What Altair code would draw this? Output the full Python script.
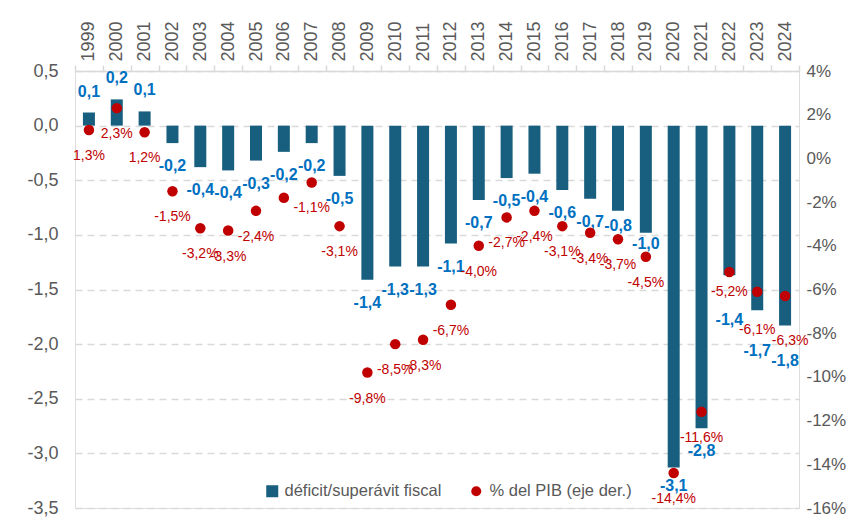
import altair as alt
import pandas as pd

# ---------------- data ----------------
YEARS = [str(y) for y in range(1999, 2025)]
BALANCE = [0.12, 0.24, 0.13, -0.16, -0.38, -0.41, -0.32, -0.24, -0.16, -0.46,
           -1.41, -1.29, -1.29, -1.08, -0.68, -0.48, -0.44, -0.59, -0.67, -0.78,
           -0.98, -3.13, -2.77, -1.37, -1.69, -1.83]
PCT_GDP = [1.3, 2.3, 1.2, -1.5, -3.2, -3.3, -2.4, -1.8, -1.1, -3.1,
           -9.8, -8.5, -8.3, -6.7, -4.0, -2.7, -2.4, -3.1, -3.4, -3.7,
           -4.5, -14.4, -11.6, -5.2, -6.1, -6.3]
HIDDEN_PCT_LABELS = ["2006"]
LEFT_TICKS = [0.5, 0.0, -0.5, -1.0, -1.5, -2.0, -2.5, -3.0, -3.5]
RIGHT_TICKS = [4, 2, 0, -2, -4, -6, -8, -10, -12, -14, -16]
LEG_BAR = "déficit/superávit fiscal"
LEG_PT = "% del PIB (eje der.)"

# ---------------- styles ----------------
BAR_C = "#175E7F"
BLUE_T = "#0070C0"
RED = "#C00000"
GRAY_T = "#595959"
GRID_C = "#D9D9D9"
NARROW = "Liberation Sans Narrow, Arial Narrow, sans-serif"
REG = "Liberation Sans, Arial, sans-serif"

# label nudges (px): (dx, dy)
NEG_DY, POS_DY = 23, -21
DY_OVERRIDE = {"2018": 15, "2019": 11, "2020": 18, "2022": 45, "2023": 41, "2024": 35}
PCT_NUDGE_DEFAULT = (0, 26)
PCT_NUDGE = {"2022": (0, 20), "2023": (0, 38), "2024": (5, 45)}


def es(v, d=1):
    s = f"{abs(v):.{d}f}".replace(".", ",")
    return ("-" if v < 0 and s.strip("0,") != "" else "") + s


df = pd.DataFrame({
    "year": YEARS,
    "bal": BALANCE,
    "pct": PCT_GDP,
})
df["bal_label"] = [es(v) for v in BALANCE]
df["pct_label"] = ["" if y in HIDDEN_PCT_LABELS else es(v) + "%" for y, v in zip(YEARS, PCT_GDP)]
df["s_bar"] = LEG_BAR
df["s_pt"] = LEG_PT

x_scale = alt.Scale(paddingInner=0, paddingOuter=0)
x_axis = alt.Axis(orient="top", title=None, labelAngle=270, labelFont=REG, labelFontSize=18,
                  labelColor=GRAY_T, domainColor=GRID_C, domainWidth=1.5, tickColor=GRID_C,
                  tickWidth=1.5, tickSize=6, tickBand="extent", labelPadding=4, grid=False)
X = alt.X("year:O", scale=x_scale, axis=x_axis, sort=YEARS)

yl_scale = alt.Scale(domain=[-3.5, 0.5], nice=False, zero=False)
yl_axis = alt.Axis(orient="left", title=None, values=LEFT_TICKS,
                   labelExpr="(datum.value < -0.001 ? '-' : '') + replace(format(abs(datum.value), '.1f'), '.', ',')",
                   grid=True, gridDash=[7, 5], gridColor=GRID_C, gridWidth=1.5,
                   domain=False, ticks=False, labelPadding=17, labelFont=NARROW,
                   labelFontSize=18, labelColor=GRAY_T)
yr_scale = alt.Scale(domain=[-16, 4], nice=False, zero=False)
yr_axis = alt.Axis(orient="right", title=None, values=RIGHT_TICKS,
                   labelExpr="(datum.value < 0 ? '-' : '') + format(abs(datum.value), 'd') + '%'",
                   grid=False, domain=False, ticks=False, labelPadding=7, labelFont=NARROW,
                   labelFontSize=17, labelColor=GRAY_T, labelAlign="left")
YL = alt.Y("bal:Q", scale=yl_scale, axis=yl_axis)
YR = alt.Y("pct:Q", scale=yr_scale, axis=yr_axis)

base = alt.Chart(df)

bars = base.mark_bar(size=12).encode(
    x=X,
    y=YL,
    color=alt.Color("s_bar:N", scale=alt.Scale(domain=[LEG_BAR], range=[BAR_C]),
                    legend=alt.Legend(orient="none", legendX=189, legendY=412, title=None,
                                      symbolType="square", symbolSize=144, labelFont=REG,
                                      labelFontSize=16.5, labelColor=GRAY_T, labelOffset=4,
                                      labelLimit=400, symbolStrokeWidth=0)),
)

# group label years by their vertical nudge
groups = {}
for y, v in zip(YEARS, BALANCE):
    dy = DY_OVERRIDE.get(y, NEG_DY if v < 0 else POS_DY)
    groups.setdefault(dy, []).append(y)

bal_text_layers = []
for dy, yrs in groups.items():
    bal_text_layers.append(
        base.mark_text(font=NARROW, fontSize=16, fontWeight="bold", color=BLUE_T,
                       baseline="middle", align="center", dy=dy)
        .encode(x=X, y=YL, text="bal_label:N")
        .transform_filter(alt.FieldOneOfPredicate(field="year", oneOf=yrs))
    )

left = alt.layer(bars, *bal_text_layers)

points = base.mark_circle(size=110, opacity=1).encode(
    x=X,
    y=YR,
    color=alt.Color("s_pt:N", scale=alt.Scale(domain=[LEG_PT], range=[RED]),
                    legend=alt.Legend(orient="none", legendX=393, legendY=412, title=None,
                                      symbolType="circle", symbolSize=100, labelFont=REG,
                                      labelFontSize=16.5, labelColor=GRAY_T, labelOffset=5,
                                      labelLimit=400, symbolStrokeWidth=0)),
)

pct_groups = {}
for y in YEARS:
    pct_groups.setdefault(PCT_NUDGE.get(y, PCT_NUDGE_DEFAULT), []).append(y)

pct_text_layers = []
for (dx, dy), yrs in pct_groups.items():
    pct_text_layers.append(
        base.mark_text(font=NARROW, fontSize=14, color=RED, baseline="middle",
                       align="center", dx=dx, dy=dy)
        .encode(x=X, y=YR, text="pct_label:N")
        .transform_filter(alt.FieldOneOfPredicate(field="year", oneOf=yrs))
    )

right = alt.layer(points, *pct_text_layers)

chart = alt.layer(left, right).resolve_scale(y="independent", color="independent").properties(
    width=724, height=437,
    autosize=alt.AutoSizeParams(type="none"),
    padding={"left": 67, "top": 63, "right": 49, "bottom": 9},
).configure_view(stroke=None).configure(background="white")

chart.save("out.html", embed_options={"renderer": "svg", "actions": False})
